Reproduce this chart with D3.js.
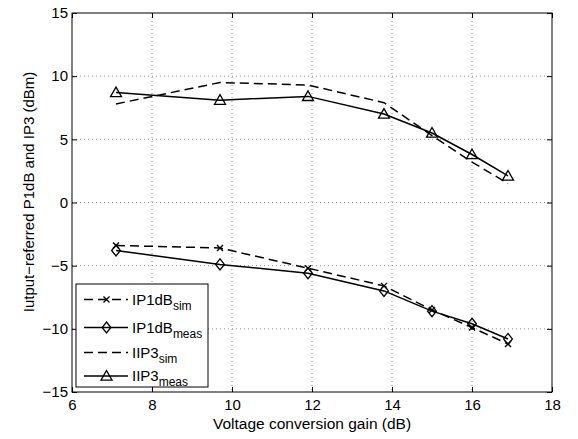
<!DOCTYPE html>
<html>
<head>
<meta charset="utf-8">
<script src="https://cdn.jsdelivr.net/npm/d3@7"></script>
<style>
  body { margin: 0; background: #fff; }
  svg { display: block; font-family: "Liberation Sans", Arial, sans-serif; }
</style>
</head>
<body>
<div id="chart"></div>
<script>
// Data
const gain = [7.1, 9.7, 11.9, 13.8, 15.0, 16.0, 16.9];
const ip1dbSim = [-3.4, -3.6, -5.2, -6.6, -8.5, -9.9, -11.2];
const ip1dbMeas = [-3.8, -4.9, -5.6, -7.0, -8.6, -9.6, -10.8];
const iip3Sim = [7.8, 9.5, 9.3, 7.9, 5.3, 3.2, 1.5];
const iip3Meas = [8.7, 8.1, 8.4, 7.0, 5.5, 3.8, 2.1];
const xTicks = [6, 8, 10, 12, 14, 16, 18];
const yTicks = [-15, -10, -5, 0, 5, 10, 15];

const series = [
  { name: "IP1dB", sub: "sim", values: ip1dbSim, dash: "9,5", marker: "x" },
  { name: "IP1dB", sub: "meas", values: ip1dbMeas, dash: null, marker: "diamond" },
  { name: "IIP3", sub: "sim", values: iip3Sim, dash: "9,5", marker: null },
  { name: "IIP3", sub: "meas", values: iip3Meas, dash: null, marker: "triangle" }
];

// Set dimensions and margins
let margin = { top: 13, right: 26, bottom: 47, left: 72 },
    width = 578 - margin.left - margin.right,
    height = 439 - margin.top - margin.bottom;

let x = d3.scaleLinear().domain([6, 18]).range([0, width]);
let y = d3.scaleLinear().domain([-15, 15]).range([height, 0]);

let svg = d3.select('#chart')
    .append('svg')
    .attr('width', 578)
    .attr('height', 439);

let g = svg.append('g')
    .attr('transform', 'translate(' + margin.left + ',' + margin.top + ')');

// grid lines
g.append('g')
    .selectAll('line')
    .data(xTicks.slice(1, -1))
    .enter().append('line')
    .attr('x1', d => x(d)).attr('x2', d => x(d))
    .attr('y1', 0).attr('y2', height)
    .attr('stroke', '#777').attr('stroke-width', 0.8)
    .attr('stroke-dasharray', '1,3');

g.append('g')
    .selectAll('line')
    .data(yTicks.slice(1, -1))
    .enter().append('line')
    .attr('y1', d => y(d)).attr('y2', d => y(d))
    .attr('x1', 0).attr('x2', width)
    .attr('stroke', '#777').attr('stroke-width', 0.8)
    .attr('stroke-dasharray', '1,3');

// axes with inward ticks
function styleAxis(sel) {
    sel.select('.domain').remove();
    sel.selectAll('.tick line').attr('stroke', '#000');
    sel.selectAll('.tick text').attr('fill', '#000').style('font-size', '15px');
}

g.append('g')
    .attr('transform', 'translate(0,' + height + ')')
    .call(d3.axisBottom(x).tickValues(xTicks).tickSizeInner(-5).tickSizeOuter(0).tickPadding(7))
    .call(styleAxis);

g.append('g')
    .call(d3.axisTop(x).tickValues(xTicks).tickSizeInner(-5).tickSizeOuter(0).tickFormat(''))
    .call(styleAxis);

g.append('g')
    .call(d3.axisLeft(y).tickValues(yTicks).tickSizeInner(-5).tickSizeOuter(0).tickPadding(4)
        .tickFormat(d => d < 0 ? '\u2212' + Math.abs(d) : d))
    .call(styleAxis);

g.append('g')
    .attr('transform', 'translate(' + width + ',0)')
    .call(d3.axisRight(y).tickValues(yTicks).tickSizeInner(-5).tickSizeOuter(0).tickFormat(''))
    .call(styleAxis);

// frame
g.append('rect')
    .attr('width', width).attr('height', height)
    .attr('fill', 'none').attr('stroke', '#000').attr('stroke-width', 1);

// markers
function drawMarker(sel, type, cx, cy) {
    if (type === 'x') {
        let s = 3;
        sel.append('path')
            .attr('d', 'M' + (cx - s) + ',' + (cy - s) + 'L' + (cx + s) + ',' + (cy + s) +
                'M' + (cx - s) + ',' + (cy + s) + 'L' + (cx + s) + ',' + (cy - s))
            .attr('stroke', '#000').attr('stroke-width', 1.4).attr('fill', 'none');
    } else if (type === 'diamond') {
        let s = 5.5;
        sel.append('path')
            .attr('d', 'M' + cx + ',' + (cy - s) + 'L' + (cx + s * 0.8) + ',' + cy +
                'L' + cx + ',' + (cy + s) + 'L' + (cx - s * 0.8) + ',' + cy + 'Z')
            .attr('stroke', '#000').attr('stroke-width', 1.3).attr('fill', 'none');
    } else if (type === 'triangle') {
        let s = 5.5;
        sel.append('path')
            .attr('d', 'M' + cx + ',' + (cy - s) + 'L' + (cx + s) + ',' + (cy + s * 0.75) +
                'L' + (cx - s) + ',' + (cy + s * 0.75) + 'Z')
            .attr('stroke', '#000').attr('stroke-width', 1.3).attr('fill', 'none');
    }
}

let line = d3.line()
    .x(d => x(d[0]))
    .y(d => y(d[1]));

series.forEach(function (s) {
    let pts = gain.map((gv, i) => [gv, s.values[i]]);
    g.append('path')
        .datum(pts)
        .attr('d', line)
        .attr('fill', 'none')
        .attr('stroke', '#000')
        .attr('stroke-width', 1.5)
        .attr('stroke-dasharray', s.dash);
    if (s.marker) {
        let mg = g.append('g');
        pts.forEach(p => drawMarker(mg, s.marker, x(p[0]), y(p[1])));
    }
});

// legend
let lg = svg.append('g').attr('transform', 'translate(76,284)');
lg.append('rect')
    .attr('width', 132).attr('height', 103)
    .attr('fill', '#fff').attr('stroke', '#000').attr('stroke-width', 1);

let rowY = [15.5, 43.5, 68.5, 92];
series.forEach(function (s, i) {
    let ry = rowY[i];
    lg.append('line')
        .attr('x1', 8).attr('x2', 52)
        .attr('y1', ry).attr('y2', ry)
        .attr('stroke', '#000').attr('stroke-width', 1.5)
        .attr('stroke-dasharray', s.dash);
    if (s.marker) drawMarker(lg, s.marker, 30.5, ry);
    let t = lg.append('text')
        .attr('x', 56).attr('y', ry + 5)
        .style('font-size', '15px');
    t.append('tspan').text(s.name);
    t.append('tspan').attr('dy', 5).style('font-size', '12px').text(s.sub);
});

// axis labels
svg.append('text')
    .attr('x', margin.left + width / 2)
    .attr('y', 429)
    .attr('text-anchor', 'middle')
    .style('font-size', '15.5px')
    .text('Voltage conversion gain (dB)');

svg.append('text')
    .attr('transform', 'translate(34,192) rotate(-90)')
    .attr('text-anchor', 'middle')
    .style('font-size', '15px')
    .text('Iutput\u2212referred P1dB and IP3 (dBm)');
</script>
</body>
</html>
